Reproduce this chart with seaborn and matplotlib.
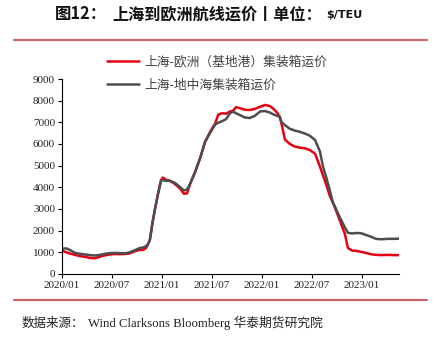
import numpy as np
import pandas as pd
import matplotlib
matplotlib.use("Agg")
import matplotlib.pyplot as plt
import matplotlib.dates as mdates
import seaborn as sns

dates = ["2020-01-03", "2020-01-17", "2020-01-31", "2020-02-18", "2020-03-07", "2020-03-25",
         "2020-04-12", "2020-04-30", "2020-05-19", "2020-06-06", "2020-06-24", "2020-07-13",
         "2020-07-31", "2020-08-18", "2020-09-05", "2020-09-24", "2020-10-12", "2020-10-23",
         "2020-11-03", "2020-11-10", "2020-11-17", "2020-11-28", "2020-12-06", "2020-12-17",
         "2020-12-28", "2021-01-04", "2021-01-15", "2021-01-30", "2021-02-17", "2021-03-07",
         "2021-03-22", "2021-04-02", "2021-04-13", "2021-05-01", "2021-05-20", "2021-06-07",
         "2021-06-25", "2021-07-14", "2021-07-25", "2021-08-08", "2021-08-23", "2021-09-06",
         "2021-09-17", "2021-09-28", "2021-10-13", "2021-10-31", "2021-11-18", "2021-12-06",
         "2021-12-25", "2022-01-12", "2022-01-30", "2022-02-14", "2022-02-25", "2022-03-07",
         "2022-03-14", "2022-03-26", "2022-04-13", "2022-05-01", "2022-05-20", "2022-06-07",
         "2022-06-25", "2022-07-14", "2022-08-01", "2022-08-12", "2022-08-23", "2022-09-06",
         "2022-09-17", "2022-09-25", "2022-10-13", "2022-10-31", "2022-11-11", "2022-11-26",
         "2022-12-14", "2022-12-29", "2023-01-16", "2023-02-03", "2023-02-22", "2023-03-12",
         "2023-04-03", "2023-04-25", "2023-05-19"]

europe = [1060, 1000, 940, 880, 820, 790,
          740, 720, 800, 860, 900, 920,
          910, 920, 950, 1050, 1120, 1100,
          1200, 1350, 1560, 2450, 3000, 3700,
          4330, 4450, 4350, 4300, 4150, 3950,
          3700, 3720, 4150, 4700, 5350, 6100,
          6550, 6950, 7350, 7420, 7400, 7500,
          7530, 7700, 7650, 7580, 7570, 7620,
          7720, 7800, 7750, 7600, 7450, 7250,
          6900, 6200, 6000, 5880, 5830, 5800,
          5720, 5550, 4950, 4550, 4150, 3600,
          3300, 3050, 2450, 1850, 1200, 1080,
          1060, 1020, 970, 910, 880, 870,
          880, 870, 870]

med = [1170, 1180, 1100, 970, 930, 900,
       870, 850, 880, 930, 960, 970,
       960, 950, 1000, 1100, 1200, 1220,
       1280, 1380, 1560, 2450, 3000, 3700,
       4300, 4330, 4300, 4300, 4200, 4020,
       3850, 3900, 4150, 4680, 5350, 6100,
       6500, 6900, 6980, 7050, 7150, 7420,
       7490, 7420, 7330, 7220, 7200, 7300,
       7500, 7520, 7450, 7350, 7300, 7250,
       7000, 6870, 6700, 6620, 6560, 6480,
       6380, 6180, 5650, 4950, 4500, 3850,
       3300, 3100, 2600, 2150, 1900, 1870,
       1890, 1880, 1800, 1720, 1620, 1600,
       1620, 1620, 1630]

label_eu = "上海-欧洲（基地港）集装箱运价"
label_med = "上海-地中海集装箱运价"
xtick_labels = ["2020/01", "2020/07", "2021/01", "2021/07", "2022/01", "2022/07", "2023/01"]
yticks = [0, 1000, 2000, 3000, 4000, 5000, 6000, 7000, 8000, 9000]

df = pd.DataFrame({"date": pd.to_datetime(dates), "eu": europe, "med": med})

sns.set_style("ticks")
plt.rcParams["font.family"] = ["Liberation Serif", "Noto Sans CJK SC"]

fig = plt.figure(figsize=(4.39, 3.42), dpi=100)
ax = fig.add_axes([0.1412, 0.199, 0.909 - 0.1412, 0.769 - 0.199])

sns.lineplot(data=df, x="date", y="eu", ax=ax, color="#E60012", linewidth=1.8, label=label_eu)
sns.lineplot(data=df, x="date", y="med", ax=ax, color="#4D4D4D", linewidth=1.8, label=label_med)

ax.set_xlim(pd.Timestamp("2020-01-01"), pd.Timestamp("2023-05-17"))
ax.set_ylim(0, 9000)
ax.set_yticks(yticks)
ax.set_yticklabels([str(v) for v in yticks], fontsize=8)
xt = pd.to_datetime([s.replace("/", "-") + "-01" for s in xtick_labels])
ax.set_xticks(xt)
ax.set_xticklabels(xtick_labels, fontsize=8)
ax.set_xlabel("")
ax.set_ylabel("")
for s in ["top", "right"]:
    ax.spines[s].set_visible(False)
for s in ["left", "bottom"]:
    ax.spines[s].set_color("black")
    ax.spines[s].set_linewidth(0.8)
ax.tick_params(axis="both", direction="out", length=3, width=0.8, color="black", pad=2, labelcolor="#222222")
ax.grid(False)

leg = ax.legend(loc="upper left", bbox_to_anchor=(0.119, 1.145), frameon=False,
                prop={"family": ["Noto Sans CJK SC"], "size": 9.2}, handlelength=2.5,
                labelspacing=0.75, handletextpad=0.4, borderaxespad=0)
for t in leg.get_texts():
    t.set_color("#404040")

fig.text(0.125, 0.958, "图12：", fontsize=11.8, fontweight="bold", family=["Noto Sans CJK SC"],
         ha="left", va="center", color="#111111")
fig.text(0.257, 0.958, "上海到欧洲航线运价丨单位：", fontsize=11.6, fontweight="bold",
         family=["Noto Sans CJK SC"], ha="left", va="center", color="#111111")
fig.text(0.743, 0.956, "$/TEU", fontsize=8, fontweight="bold", family=["DejaVu Sans"],
         ha="left", va="center", color="#111111")

line_color = "#C9686A"
fig.add_artist(plt.Line2D([14 / 439, 427 / 439], [1 - 40 / 342, 1 - 40 / 342],
                          transform=fig.transFigure, color=line_color, linewidth=1.6))
fig.add_artist(plt.Line2D([14 / 439, 427 / 439], [1 - 300 / 342, 1 - 300 / 342],
                          transform=fig.transFigure, color=line_color, linewidth=1.6))

fig.text(22 / 439, 1 - 323 / 342, "数据来源：", fontsize=9, family=["Noto Sans CJK SC"],
         ha="left", va="center", color="#222222")
fig.text(88 / 439, 1 - 323 / 342, "Wind Clarksons Bloomberg 华泰期货研究院", fontsize=9.15,
         family=["Liberation Serif", "Noto Sans CJK SC"], ha="left", va="center", color="#222222")

fig.savefig("out.png", dpi=100)
